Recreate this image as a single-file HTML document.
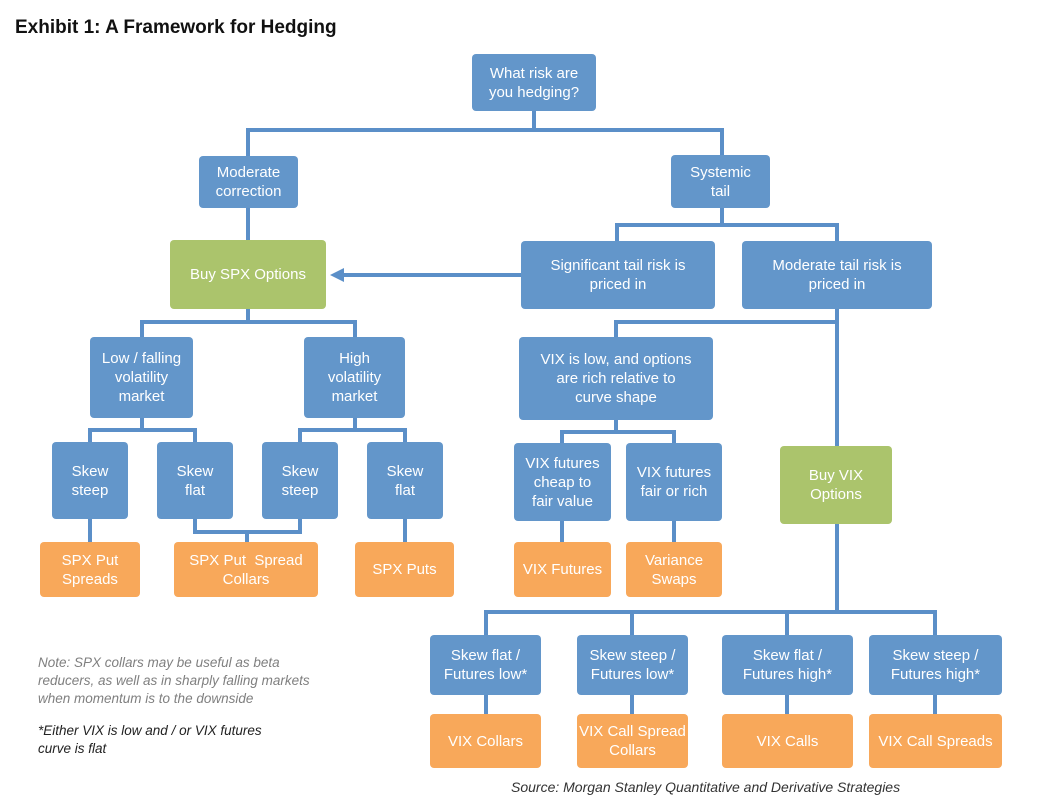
<!DOCTYPE html>
<html><head><meta charset="utf-8"><style>
body{margin:0;width:1040px;height:804px;background:#fff;position:relative;font-family:"Liberation Sans",sans-serif;overflow:hidden}
.b{position:absolute;display:flex;align-items:center;justify-content:center;text-align:center;color:#fff;font-size:15px;line-height:19px;border-radius:4px;box-sizing:border-box}
.u{background:#6396ca}.g{background:#abc46c}.o{background:#f8a85a}
svg{position:absolute;left:0;top:0}
.t{position:absolute;font-size:13.5px;line-height:18px;font-style:italic}
</style></head><body>
<div style="position:absolute;left:15px;top:17px;font-size:19px;font-weight:bold;color:#111">Exhibit 1: A Framework for Hedging</div>
<svg width="1040" height="804">
<g stroke="#5b8fc8" stroke-width="4" fill="none">
<path d="M534 111V130M248 156V130H722V155"/>
<path d="M722 208V225M617 241V225H837V241"/>
<path d="M248 208V240"/>
<path d="M248 309V322M142 337V322H355V337"/>
<path d="M142 418V430M90 442V430H195V442"/>
<path d="M355 418V430M300 442V430H405V442"/>
<path d="M90 519V542M405 519V542M195 519V532H300V519M247 532V542"/>
<path d="M837 309V446M616 337V322H837"/>
<path d="M616 420V432M562 443V432H674V443"/>
<path d="M562 521V542M674 521V542"/>
<path d="M837 524V612M486 635V612H935V635M632 612V635M787 612V635"/>
<path d="M486 695V714M632 695V714M787 695V714M935 695V714"/>
<path d="M521 275H342"/>
</g>
<polygon points="330,275 344,268 344,282" fill="#5b8fc8"/>
</svg>
<div class="b u" style="left:472px;top:54px;width:124px;height:57px">What risk are<br>you hedging?</div>
<div class="b u" style="left:199px;top:156px;width:99px;height:52px">Moderate<br>correction</div>
<div class="b u" style="left:671px;top:155px;width:99px;height:53px">Systemic<br>tail</div>
<div class="b g" style="left:170px;top:240px;width:156px;height:69px">Buy SPX Options</div>
<div class="b u" style="left:521px;top:241px;width:194px;height:68px">Significant tail risk is<br>priced in</div>
<div class="b u" style="left:742px;top:241px;width:190px;height:68px">Moderate tail risk is<br>priced in</div>
<div class="b u" style="left:90px;top:337px;width:103px;height:81px">Low / falling<br>volatility<br>market</div>
<div class="b u" style="left:304px;top:337px;width:101px;height:81px">High<br>volatility<br>market</div>
<div class="b u" style="left:52px;top:442px;width:76px;height:77px">Skew<br>steep</div>
<div class="b u" style="left:157px;top:442px;width:76px;height:77px">Skew<br>flat</div>
<div class="b u" style="left:262px;top:442px;width:76px;height:77px">Skew<br>steep</div>
<div class="b u" style="left:367px;top:442px;width:76px;height:77px">Skew<br>flat</div>
<div class="b o" style="left:40px;top:542px;width:100px;height:55px">SPX Put<br>Spreads</div>
<div class="b o" style="left:174px;top:542px;width:144px;height:55px">SPX Put&nbsp; Spread<br>Collars</div>
<div class="b o" style="left:355px;top:542px;width:99px;height:55px">SPX Puts</div>
<div class="b u" style="left:519px;top:337px;width:194px;height:83px">VIX is low, and options<br>are rich relative to<br>curve shape</div>
<div class="b u" style="left:514px;top:443px;width:97px;height:78px">VIX futures<br>cheap to<br>fair value</div>
<div class="b u" style="left:626px;top:443px;width:96px;height:78px">VIX futures<br>fair or rich</div>
<div class="b g" style="left:780px;top:446px;width:112px;height:78px">Buy VIX<br>Options</div>
<div class="b o" style="left:514px;top:542px;width:97px;height:55px">VIX Futures</div>
<div class="b o" style="left:626px;top:542px;width:96px;height:55px">Variance<br>Swaps</div>
<div class="b u" style="left:430px;top:635px;width:111px;height:60px">Skew flat /<br>Futures low*</div>
<div class="b u" style="left:577px;top:635px;width:111px;height:60px">Skew steep /<br>Futures low*</div>
<div class="b u" style="left:722px;top:635px;width:131px;height:60px">Skew flat /<br>Futures high*</div>
<div class="b u" style="left:869px;top:635px;width:133px;height:60px">Skew steep /<br>Futures high*</div>
<div class="b o" style="left:430px;top:714px;width:111px;height:54px">VIX Collars</div>
<div class="b o" style="left:577px;top:714px;width:111px;height:54px">VIX Call Spread<br>Collars</div>
<div class="b o" style="left:722px;top:714px;width:131px;height:54px">VIX Calls</div>
<div class="b o" style="left:869px;top:714px;width:133px;height:54px">VIX Call Spreads</div>
<div class="t" style="left:38px;top:654px;color:#7f7f7f">Note: SPX collars may be useful as beta<br>reducers, as well as in sharply falling markets<br>when momentum is to the downside</div>
<div class="t" style="left:38px;top:722px;color:#222">*Either VIX is low and / or VIX futures<br>curve is flat</div>
<div class="t" style="left:511px;top:778px;color:#333;font-size:14px">Source: Morgan Stanley Quantitative and Derivative Strategies</div>
</body></html>
